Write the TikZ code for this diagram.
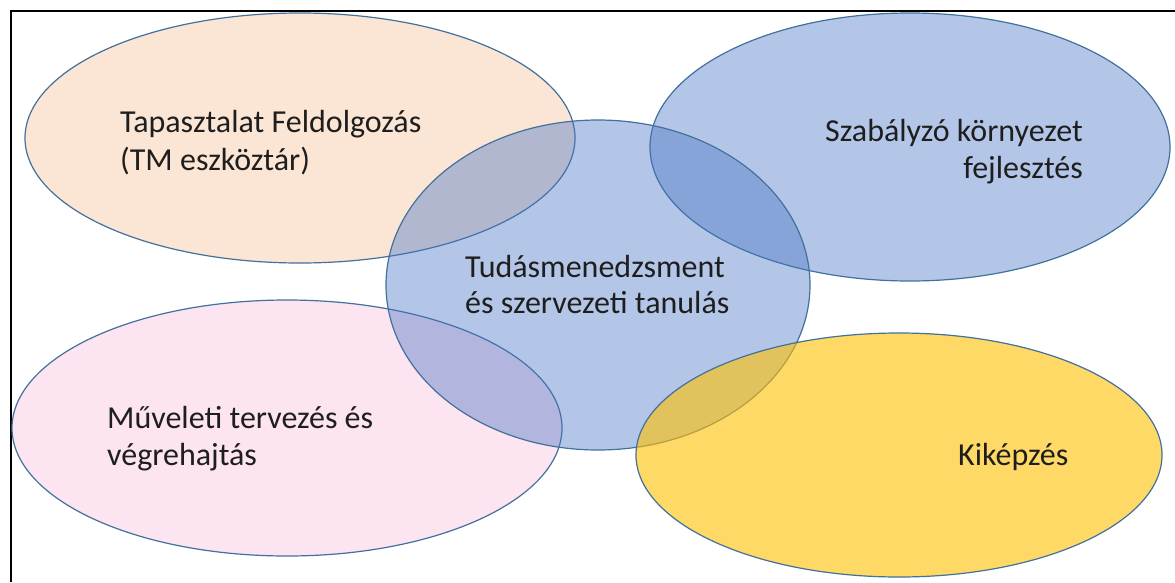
\documentclass[tikz,border=0pt]{standalone}
\usepackage{fontspec}
\setmainfont{Carlito}
\usetikzlibrary{shapes.geometric}

\definecolor{edgeblue}{HTML}{41719C}
\definecolor{accblue}{HTML}{4472C4}
\definecolor{accorange}{HTML}{ED7D31}
\definecolor{accpink}{HTML}{F078B4}
\definecolor{accgold}{HTML}{FFC000}
\definecolor{inktext}{HTML}{1E1E1E}

\tikzset{
  blob/.style={ellipse, draw=edgeblue, line width=1.2pt, inner sep=0pt},
  label/.style={font=\fontsize{32}{37}\selectfont, text=inktext, inner sep=0pt},
}

\begin{document}
\begin{tikzpicture}[x=1pt, y=-1pt]
  \useasboundingbox (0,0) rectangle (1175,582);
  \fill[white] (0,0) rectangle (1175,582);

  % frame (top and left edges)
  \draw[line width=2pt, black] (11,582) -- (11,11) -- (1175,11);

  % overlapping areas
  \node[blob, fill=accorange, fill opacity=0.2,
        minimum width=550pt, minimum height=250pt] (tapasztalat) at (300,138) {};
  \node[blob, fill=accpink, fill opacity=0.2,
        minimum width=550pt, minimum height=256pt] (muveleti) at (287,428) {};
  \node[blob, fill=accblue, fill opacity=0.4,
        minimum width=520pt, minimum height=268pt] (szabalyzo) at (910,147) {};
  \node[blob, fill=accblue, fill opacity=0.4,
        minimum width=424pt, minimum height=330pt] (tudas) at (598,285) {};
  \node[blob, fill=accgold, fill opacity=0.6,
        minimum width=526pt, minimum height=244pt] (kikepzes) at (899,455) {};

  % texts
  \node[label, anchor=base west] (t1a) at (120,132) {Tapasztalat Feldolgozás};
  \node[label, anchor=base west] (t1b) at (120,170) {(TM eszköztár)};

  \node[label, anchor=base east] (t2a) at (1083,141) {Szabályzó környezet};
  \node[label, anchor=base east] (t2b) at (1083,178) {fejlesztés};

  \node[label, anchor=base west] (t3a) at (465,277) {Tudásmenedzsment};
  \node[label, anchor=base west] (t3b) at (465,313) {és szervezeti tanulás};

  \node[label, anchor=base west] (t4a) at (107,428) {Műveleti tervezés és};
  \node[label, anchor=base west] (t4b) at (107,465) {végrehajtás};

  \node[label, anchor=base west] (t5) at (958,465) {Kiképzés};
\end{tikzpicture}
\end{document}
